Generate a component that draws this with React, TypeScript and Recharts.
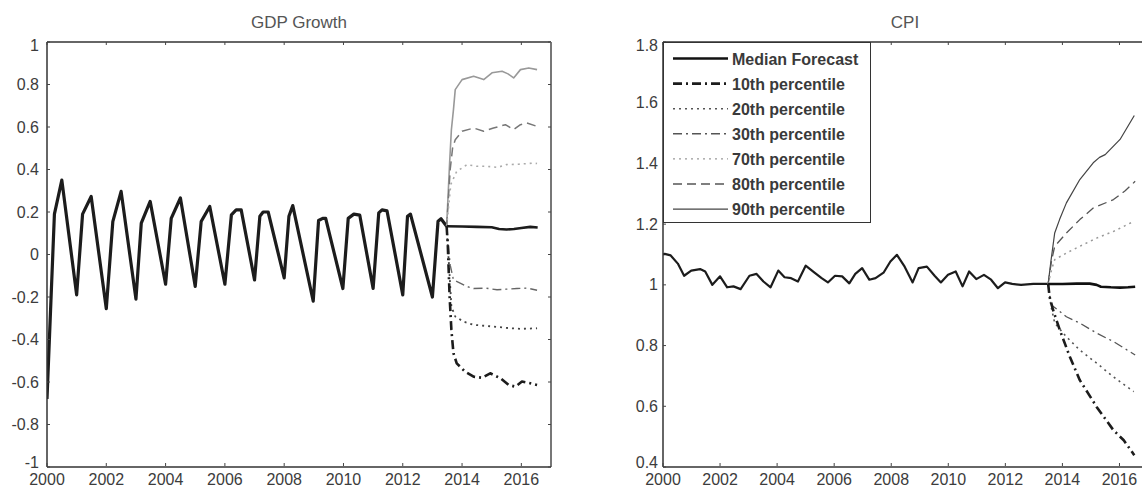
import React from 'react';
import { LineChart, Line, XAxis, YAxis, ReferenceLine, Legend } from 'recharts';

type Pt = [number, number];

// axis ticks
const yearTicks = [2000, 2002, 2004, 2006, 2008, 2010, 2012, 2014, 2016];
const gdpTicks = [-1, -0.8, -0.6, -0.4, -0.2, 0, 0.2, 0.4, 0.6, 0.8, 1];
const cpiTicks = [0.4, 0.6, 0.8, 1, 1.2, 1.4, 1.6, 1.8];

// GDP growth: history + forecast percentiles, [year, value]
const gdpHistory: Pt[] = [
  [2000.0, -0.68], [2000.25, 0.19], [2000.5, 0.35], [2001.0, -0.19], [2001.2, 0.19], [2001.49, 0.273],
  [2002.0, -0.255], [2002.22, 0.155], [2002.5, 0.297], [2003.0, -0.21], [2003.18, 0.148], [2003.48, 0.25],
  [2004.0, -0.14], [2004.19, 0.17], [2004.5, 0.266], [2005.0, -0.15], [2005.2, 0.155], [2005.49, 0.226],
  [2006.0, -0.14], [2006.22, 0.187], [2006.38, 0.21], [2006.55, 0.21], [2007.0, -0.12], [2007.18, 0.18],
  [2007.29, 0.2], [2007.46, 0.2], [2008.0, -0.11], [2008.16, 0.18], [2008.29, 0.23], [2008.98, -0.22],
  [2009.16, 0.16], [2009.3, 0.17], [2009.4, 0.17], [2009.98, -0.16], [2010.16, 0.17], [2010.35, 0.19],
  [2010.55, 0.185], [2011.0, -0.16], [2011.19, 0.196], [2011.3, 0.21], [2011.47, 0.205], [2012.0, -0.19],
  [2012.16, 0.18], [2012.26, 0.19], [2013.0, -0.2], [2013.19, 0.157], [2013.29, 0.168], [2013.48, 0.133],
];
const gdpMedian: Pt[] = [
  [2013.48, 0.133], [2014.0, 0.132], [2014.5, 0.13], [2015.0, 0.128], [2015.25, 0.12], [2015.5, 0.118],
  [2015.75, 0.12], [2016.0, 0.125], [2016.3, 0.13], [2016.55, 0.127],
];
const gdpP10: Pt[] = [
  [2013.48, 0.133], [2013.52, 0.04], [2013.58, -0.198], [2013.64, -0.355], [2013.71, -0.465], [2013.82, -0.512],
  [2014.1, -0.551], [2014.39, -0.575], [2014.67, -0.58], [2014.95, -0.559], [2015.29, -0.582], [2015.57, -0.614],
  [2015.8, -0.622], [2016.02, -0.598], [2016.3, -0.606], [2016.53, -0.614],
];
const gdpP20: Pt[] = [
  [2013.48, 0.133], [2013.58, -0.1], [2013.64, -0.245], [2013.77, -0.292], [2014.05, -0.316], [2014.39, -0.331],
  [2015.06, -0.339], [2015.63, -0.347], [2016.0, -0.35], [2016.53, -0.347],
];
const gdpP30: Pt[] = [
  [2013.48, 0.133], [2013.6, -0.05], [2013.71, -0.119], [2014.17, -0.151], [2014.39, -0.16], [2014.8, -0.158],
  [2015.18, -0.166], [2015.5, -0.163], [2015.85, -0.16], [2016.2, -0.158], [2016.53, -0.168],
];
const gdpP70: Pt[] = [
  [2013.48, 0.133], [2013.62, 0.33], [2013.82, 0.391], [2014.17, 0.423], [2014.5, 0.415], [2014.84, 0.415],
  [2015.2, 0.41], [2015.5, 0.423], [2015.9, 0.425], [2016.42, 0.43], [2016.53, 0.428],
];
const gdpP80: Pt[] = [
  [2013.48, 0.133], [2013.6, 0.4], [2013.68, 0.5], [2013.77, 0.54], [2014.0, 0.58], [2014.39, 0.595],
  [2014.73, 0.58], [2015.06, 0.595], [2015.46, 0.611], [2015.74, 0.588], [2015.97, 0.611], [2016.19, 0.619],
  [2016.53, 0.603],
];
const gdpP90: Pt[] = [
  [2013.48, 0.133], [2013.58, 0.43], [2013.64, 0.587], [2013.71, 0.682], [2013.77, 0.776], [2014.0, 0.823],
  [2014.39, 0.839], [2014.73, 0.823], [2015.01, 0.855], [2015.35, 0.862], [2015.55, 0.85], [2015.74, 0.831],
  [2015.97, 0.87], [2016.25, 0.878], [2016.53, 0.87],
];

// CPI
const cpiHistory: Pt[] = [
  [2000.0, 1.1], [2000.06, 1.102], [2000.27, 1.097], [2000.52, 1.07], [2000.74, 1.03], [2000.99, 1.047],
  [2001.3, 1.052], [2001.48, 1.044], [2001.73, 1.0], [2002.0, 1.028], [2002.25, 0.992], [2002.47, 0.995],
  [2002.72, 0.986], [2003.03, 1.03], [2003.28, 1.036], [2003.52, 1.011], [2003.77, 0.992], [2004.04, 1.047],
  [2004.26, 1.025], [2004.49, 1.022], [2004.73, 1.011], [2005.0, 1.063], [2005.31, 1.04], [2005.56, 1.022],
  [2005.78, 1.008], [2006.03, 1.03], [2006.28, 1.028], [2006.53, 1.005], [2006.74, 1.036], [2006.98, 1.055],
  [2007.23, 1.017], [2007.45, 1.022], [2007.73, 1.04], [2007.97, 1.077], [2008.2, 1.099], [2008.47, 1.06],
  [2008.75, 1.008], [2008.96, 1.055], [2009.25, 1.06], [2009.52, 1.03], [2009.74, 1.008], [2009.99, 1.033],
  [2010.26, 1.044], [2010.5, 0.995], [2010.73, 1.044], [2010.98, 1.019], [2011.25, 1.033], [2011.5, 1.017],
  [2011.74, 0.989], [2011.99, 1.008], [2012.24, 1.003], [2012.55, 1.0], [2012.98, 1.003], [2013.5, 1.003],
];
const cpiMedian: Pt[] = [
  [2013.5, 1.003], [2014.0, 1.003], [2014.5, 1.004], [2014.96, 1.004], [2015.2, 1.0], [2015.35, 0.994],
  [2015.7, 0.992], [2016.02, 0.991], [2016.3, 0.992], [2016.55, 0.994],
];
const cpiP10: Pt[] = [
  [2013.5, 1.003], [2013.55, 0.961], [2013.67, 0.918], [2013.91, 0.851], [2014.26, 0.763], [2014.61, 0.686],
  [2015.2, 0.598], [2015.79, 0.521], [2016.15, 0.488], [2016.52, 0.439],
];
const cpiP20: Pt[] = [
  [2013.5, 1.003], [2013.6, 0.93], [2013.73, 0.874], [2014.14, 0.829], [2014.61, 0.785], [2015.2, 0.742],
  [2015.79, 0.697], [2016.5, 0.648],
];
const cpiP30: Pt[] = [
  [2013.5, 1.003], [2013.61, 0.934], [2014.14, 0.895], [2014.61, 0.874], [2015.2, 0.841], [2015.79, 0.813],
  [2016.55, 0.769],
];
const cpiP70: Pt[] = [
  [2013.5, 1.003], [2013.62, 1.05], [2013.73, 1.083], [2014.14, 1.105], [2014.61, 1.127], [2015.2, 1.154],
  [2015.79, 1.176], [2016.5, 1.209],
];
const cpiP80: Pt[] = [
  [2013.5, 1.003], [2013.62, 1.08], [2013.73, 1.127], [2014.14, 1.171], [2014.61, 1.215], [2015.08, 1.253],
  [2015.79, 1.281], [2016.2, 1.31], [2016.55, 1.341],
];
const cpiP90: Pt[] = [
  [2013.5, 1.003], [2013.6, 1.08], [2013.73, 1.171], [2013.9, 1.215], [2014.14, 1.27], [2014.61, 1.347],
  [2015.08, 1.402], [2015.3, 1.42], [2015.5, 1.429], [2016.02, 1.479], [2016.52, 1.558],
];

const FONT = '"Liberation Sans", Arial, sans-serif';
const TEXT = '#3c3c3c';
const TICK_FONT = 16;

type Style = { name: string; color: string; width: number; dash?: string };

const gdpStyles: Record<string, Style> = {
  hist: { name: 'History', color: '#1c1c1c', width: 3.2 },
  median: { name: 'Median Forecast', color: '#1c1c1c', width: 2.6 },
  p10: { name: '10th percentile', color: '#1c1c1c', width: 2.6, dash: '9 4 2 4' },
  p20: { name: '20th percentile', color: '#444', width: 1.8, dash: '2 4' },
  p30: { name: '30th percentile', color: '#666', width: 1.4, dash: '9 4 2 4' },
  p70: { name: '70th percentile', color: '#aaa', width: 1.6, dash: '2 4' },
  p80: { name: '80th percentile', color: '#777', width: 1.5, dash: '9 5' },
  p90: { name: '90th percentile', color: '#999', width: 1.6 },
};

const cpiStyles: Record<string, Style> = {
  hist: { name: 'History', color: '#1c1c1c', width: 2.2 },
  median: { name: 'Median Forecast', color: '#111', width: 2.6 },
  p10: { name: '10th percentile', color: '#1c1c1c', width: 2.6, dash: '9 4 2 4' },
  p20: { name: '20th percentile', color: '#555', width: 1.6, dash: '2 4' },
  p30: { name: '30th percentile', color: '#555', width: 1.3, dash: '9 4 2 4' },
  p70: { name: '70th percentile', color: '#999', width: 1.5, dash: '2 4' },
  p80: { name: '80th percentile', color: '#555', width: 1.3, dash: '9 5' },
  p90: { name: '90th percentile', color: '#444', width: 1.2 },
};

const legendKeys = ['median', 'p10', 'p20', 'p30', 'p70', 'p80', 'p90'];

const toRows = (pts: Pt[]) => pts.map(([x, y]) => ({ x, y }));

// axis is 1px thick, so tick y comes in one below the plot bottom
const makeXTick = (plotTop: number) => (props: any) => {
  const { x, y, payload } = props;
  return (
    <g>
      <line x1={x} y1={y - 1} x2={x} y2={y - 4} stroke="#444" />
      <line x1={x} y1={plotTop} x2={x} y2={plotTop + 3} stroke="#444" />
      <text x={x} y={y + 17.5} textAnchor="middle" fill={TEXT} fontSize={TICK_FONT} fontFamily={FONT}>
        {payload.value}
      </text>
    </g>
  );
};

const makeYTick = (plotRight: number, gap: number, plotTop: number, plotBottom: number) => (props: any) => {
  const { x, y, payload } = props;
  // end labels are nudged inward, like the original
  let dy = 5.5;
  if (Math.abs(y - plotTop) < 1) dy = 8.5;
  if (Math.abs(y - plotBottom) < 1) dy = 0.5;
  return (
    <g>
      <line x1={x} y1={y} x2={x + 3} y2={y} stroke="#444" />
      <line x1={plotRight} y1={y} x2={plotRight - 3} y2={y} stroke="#444" />
      <text x={x - gap} y={y + dy} textAnchor="end" fill={TEXT} fontSize={TICK_FONT} fontFamily={FONT}>
        {payload.value}
      </text>
    </g>
  );
};

const CpiLegend = () => (
  <div style={{ width: 208, height: 181, border: '1.5px solid #333', background: '#fff', boxSizing: 'border-box' }}>
    <svg width={205} height={178} style={{ display: 'block' }}>
      {legendKeys.map((key, i) => {
        const s = cpiStyles[key];
        const cy = 15.5 + i * 25.1;
        return (
          <g key={key}>
            <line x1={9} x2={64} y1={cy} y2={cy} stroke={s.color} strokeWidth={key === 'median' || key === 'p10' ? 2.6 : 1.4} strokeDasharray={s.dash} />
            <text x={68} y={cy + 6} fontSize={16} fontWeight="bold" fill="#3a3a3a" fontFamily={FONT}>
              {s.name}
            </text>
          </g>
        );
      })}
    </svg>
  </div>
);

interface PanelProps {
  width: number;
  margin: { top: number; left: number; right: number; bottom: number };
  series: [string, Pt[]][];
  styles: Record<string, Style>;
  yDomain: [number, number];
  yTicks: number[];
  gap: number;
  legend?: boolean;
}

const HEIGHT = 489;

const Panel: React.FC<PanelProps> = ({ width, margin, series, styles, yDomain, yTicks, gap, legend }) => {
  const plotRight = width - margin.right;
  const plotBottom = HEIGHT - margin.bottom - 1;
  return (
    <LineChart width={width} height={HEIGHT} margin={margin}>
      <XAxis
        type="number"
        dataKey="x"
        domain={[2000, 2017]}
        ticks={yearTicks}
        interval={0}
        height={1}
        tickSize={0}
        tickMargin={0}
        tickLine={false}
        allowDataOverflow
        axisLine={{ stroke: '#333', strokeWidth: 1.5 }}
        tick={makeXTick(margin.top)}
      />
      <YAxis
        type="number"
        dataKey="y"
        domain={yDomain}
        ticks={yTicks}
        interval={0}
        width={1}
        tickSize={0}
        tickMargin={0}
        tickLine={false}
        allowDataOverflow
        axisLine={{ stroke: '#333', strokeWidth: 1.5 }}
        tick={makeYTick(plotRight, gap, margin.top, plotBottom)}
      />
      <ReferenceLine y={yDomain[1]} stroke="#333" strokeWidth={1.5} />
      <ReferenceLine x={2017} stroke="#777" strokeWidth={2} />
      {series.map(([key, pts]) => {
        const s = styles[key];
        return (
          <Line
            key={key}
            data={toRows(pts)}
            dataKey="y"
            name={s.name}
            type="linear"
            stroke={s.color}
            strokeWidth={s.width}
            strokeDasharray={s.dash}
            strokeLinejoin="round"
            dot={false}
            activeDot={false}
            isAnimationActive={false}
          />
        );
      })}
      {legend && (
        <Legend
          layout="vertical"
          align="center"
          verticalAlign="middle"
          content={() => <CpiLegend />}
          wrapperStyle={{ left: margin.left + 1, top: margin.top, width: 208, height: 181 }}
        />
      )}
    </LineChart>
  );
};

const titleStyle: React.CSSProperties = {
  position: 'absolute',
  top: 13,
  fontFamily: FONT,
  fontSize: 17,
  color: '#555',
  transform: 'translateX(-50%)',
  whiteSpace: 'nowrap',
  lineHeight: '20px',
};

export default function App() {
  return (
    <div style={{ position: 'absolute', left: 0, top: 0, width: 1142, height: HEIGHT, overflow: 'hidden', background: '#fff' }}>
      <div style={{ position: 'absolute', left: 0, top: 0 }}>
        <Panel
          width={580}
          margin={{ top: 42, left: 46, right: 29, bottom: 21 }}
          series={[
            ['hist', gdpHistory],
            ['p90', gdpP90],
            ['p80', gdpP80],
            ['p70', gdpP70],
            ['p30', gdpP30],
            ['p20', gdpP20],
            ['p10', gdpP10],
            ['median', gdpMedian],
          ]}
          styles={gdpStyles}
          yDomain={[-1, 1]}
          yTicks={gdpTicks}
          gap={8}
        />
      </div>
      <div style={{ position: 'absolute', left: 600, top: 0 }}>
        <Panel
          width={570}
          margin={{ top: 42, left: 62, right: 22, bottom: 21 }}
          series={[
            ['hist', cpiHistory],
            ['p90', cpiP90],
            ['p80', cpiP80],
            ['p70', cpiP70],
            ['p30', cpiP30],
            ['p20', cpiP20],
            ['p10', cpiP10],
            ['median', cpiMedian],
          ]}
          styles={cpiStyles}
          yDomain={[0.4, 1.8]}
          yTicks={cpiTicks}
          gap={5}
          legend
        />
      </div>
      <div style={{ ...titleStyle, left: 299 }}>GDP Growth</div>
      <div style={{ ...titleStyle, left: 905 }}>CPI</div>
    </div>
  );
}
